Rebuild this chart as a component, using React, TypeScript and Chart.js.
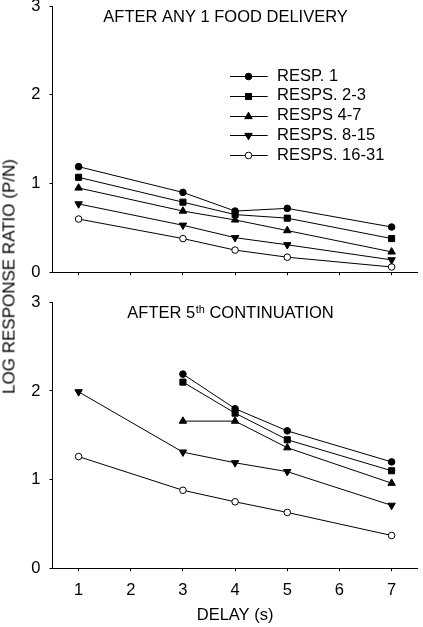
import React, { useEffect, useRef } from "react";
import { Chart, registerables } from "chart.js";
import { drawPoint } from "chart.js/helpers";

Chart.register(...registerables);

const FONT_FAMILY = '"Liberation Sans", Arial, Helvetica, sans-serif';

// ---- data ----
const delays = [1, 3, 4, 5, 7];
const xTickValues = [1, 2, 3, 4, 5, 6, 7];
const yTickValues = [0, 1, 2, 3];
const seriesNames = ["RESP. 1", "RESPS. 2-3", "RESPS 4-7", "RESPS. 8-15", "RESPS. 16-31"];

const topResp1 = [1.19, 0.9, 0.69, 0.72, 0.51];
const topResps2to3 = [1.07, 0.79, 0.65, 0.61, 0.38];
const topResps4to7 = [0.95, 0.69, 0.59, 0.47, 0.23];
const topResps8to15 = [0.77, 0.53, 0.39, 0.31, 0.14];
const topResps16to31 = [0.6, 0.38, 0.25, 0.17, 0.06];

const bottomResp1 = [null, 2.19, 1.8, 1.55, 1.2];
const bottomResps2to3 = [null, 2.1, 1.75, 1.45, 1.1];
const bottomResps4to7 = [null, 1.66, 1.66, 1.36, 0.96];
const bottomResps8to15 = [1.99, 1.31, 1.19, 1.09, 0.71];
const bottomResps16to31 = [1.26, 0.88, 0.75, 0.63, 0.37];

const topTitle = "AFTER ANY 1 FOOD DELIVERY";
const bottomTitleMain = "AFTER 5";
const bottomTitleSup = "th";
const bottomTitleRest = " CONTINUATION";
const yAxisTitle = "LOG RESPONSE RATIO (P/N)";
const xAxisTitle = "DELAY (s)";

// ---- styles ----
const markerStyles = [
  { style: "circle", radius: 3.3, fill: "#000000", rotation: 0 },
  { style: "rect", radius: 4.3, fill: "#000000", rotation: 0 },
  { style: "triangle", radius: 4.3, fill: "#000000", rotation: 0 },
  { style: "triangle", radius: 4.3, fill: "#000000", rotation: 180 },
  { style: "circle", radius: 3.3, fill: "#ffffff", rotation: 0 },
];

const FONT_SIZE = 16.5;

function buildDatasets(series: (number | null)[][]) {
  return series.map((vals, i) => ({
    label: seriesNames[i],
    data: delays.map((d, j) => ({ x: d, y: vals[j] })),
    borderColor: "#000000",
    borderWidth: 1,
    pointStyle: markerStyles[i].style,
    pointRadius: markerStyles[i].radius,
    pointRotation: markerStyles[i].rotation,
    pointBackgroundColor: markerStyles[i].fill,
    pointBorderColor: "#000000",
    pointBorderWidth: 1,
    fill: false,
    tension: 0,
    spanGaps: false,
  }));
}

function buildScales(showXLabels: boolean, xHeight: number) {
  const font = { family: FONT_FAMILY, size: FONT_SIZE };
  return {
    x: {
      type: "linear",
      min: 0.5,
      max: 7.5,
      afterBuildTicks: (s: any) => {
        s.ticks = xTickValues.map((v) => ({ value: v }));
      },
      ticks: {
        padding: 9,
        font,
        color: "#000000",
        maxRotation: 0,
        autoSkip: false,
        callback: (v: any) => (showXLabels ? String(v) : ""),
      },
      grid: { drawOnChartArea: false, drawTicks: true, tickLength: 3, color: "#000000", lineWidth: 1 },
      border: { display: true, color: "#000000", width: 1 },
      title: {
        display: showXLabels,
        text: xAxisTitle,
        font,
        color: "#000000",
        padding: { top: 0, bottom: 1.3 },
      },
      afterFit: (s: any) => {
        s.height = xHeight;
        s.paddingLeft = 0;
        s.paddingRight = 0;
      },
    },
    y: {
      type: "linear",
      min: 0,
      max: 3,
      afterBuildTicks: (s: any) => {
        s.ticks = yTickValues.map((v) => ({ value: v }));
      },
      ticks: { padding: 9, font, color: "#000000", callback: (v: any) => String(v) },
      grid: { drawOnChartArea: false, drawTicks: true, tickLength: 3, color: "#000000", lineWidth: 1 },
      border: { display: true, color: "#000000", width: 1 },
      afterFit: (s: any) => {
        s.width = 52.5;
        s.paddingTop = 0;
        s.paddingBottom = 0;
      },
    },
  };
}

const topDecor = {
  id: "topDecor",
  afterDraw(chart: any) {
    const ctx = chart.ctx;
    ctx.save();
    ctx.fillStyle = "#000000";
    ctx.font = `${FONT_SIZE}px ${FONT_FAMILY}`;
    ctx.textAlign = "left";
    ctx.textBaseline = "alphabetic";
    ctx.fillText(topTitle, 103.3, 21.7);
    chart.data.datasets.forEach((ds: any, i: number) => {
      const y = 76 + i * 19.8;
      const yl = Math.round(y) + 0.5;
      ctx.strokeStyle = "#000000";
      ctx.lineWidth = 1;
      ctx.beginPath();
      ctx.moveTo(230, yl);
      ctx.lineTo(267.7, yl);
      ctx.stroke();
      ctx.fillStyle = ds.pointBackgroundColor;
      ctx.strokeStyle = "#000000";
      drawPoint(
        ctx,
        { pointStyle: ds.pointStyle, rotation: ds.pointRotation, radius: ds.pointRadius, borderWidth: 1 },
        248.5,
        yl
      );
      ctx.fillStyle = "#000000";
      ctx.textBaseline = "middle";
      ctx.fillText(ds.label, 277, y);
    });
    ctx.restore();
  },
};

const bottomDecor = {
  id: "bottomDecor",
  afterDraw(chart: any) {
    const ctx = chart.ctx;
    ctx.save();
    ctx.fillStyle = "#000000";
    ctx.textAlign = "left";
    ctx.textBaseline = "alphabetic";
    const baseY = 27.7;
    let x = 127.3;
    ctx.font = `${FONT_SIZE}px ${FONT_FAMILY}`;
    ctx.fillText(bottomTitleMain, x, baseY);
    x += ctx.measureText(bottomTitleMain).width + 0.5;
    ctx.font = `11px ${FONT_FAMILY}`;
    ctx.fillText(bottomTitleSup, x, baseY - 4.5);
    x += ctx.measureText(bottomTitleSup).width;
    ctx.font = `${FONT_SIZE}px ${FONT_FAMILY}`;
    ctx.fillText(bottomTitleRest, x, baseY);
    ctx.restore();
  },
};

function makeConfig(series: (number | null)[][], showXLabels: boolean, padTop: number, xHeight: number, plugin: any) {
  return {
    type: "line",
    data: { datasets: buildDatasets(series) },
    options: {
      animation: false,
      responsive: false,
      maintainAspectRatio: false,
      devicePixelRatio: 1,
      layout: { padding: { top: padTop, left: 0, right: 0, bottom: 0 } },
      plugins: { legend: { display: false }, title: { display: false }, tooltip: { enabled: false } },
      scales: buildScales(showXLabels, xHeight),
    },
    plugins: [plugin],
  } as any;
}

export default function App() {
  const topRef = useRef<HTMLCanvasElement | null>(null);
  const bottomRef = useRef<HTMLCanvasElement | null>(null);

  useEffect(() => {
    const topChart = new Chart(
      topRef.current as HTMLCanvasElement,
      makeConfig([topResp1, topResps2to3, topResps4to7, topResps8to15, topResps16to31], false, 6, 17.7, topDecor)
    );
    const bottomChart = new Chart(
      bottomRef.current as HTMLCanvasElement,
      makeConfig(
        [bottomResp1, bottomResps2to3, bottomResps4to7, bottomResps8to15, bottomResps16to31],
        true,
        12.3,
        58.7,
        bottomDecor
      )
    );
    return () => {
      topChart.destroy();
      bottomChart.destroy();
    };
  }, []);

  return (
    <div style={{ position: "absolute", left: 0, top: 0, width: 423, height: 627, background: "#ffffff" }}>
      <canvas
        ref={topRef}
        width={423}
        height={290}
        style={{ position: "absolute", left: 0, top: 0, width: 423, height: 290, display: "block" }}
      />
      <canvas
        ref={bottomRef}
        width={423}
        height={337}
        style={{ position: "absolute", left: 0, top: 290, width: 423, height: 337, display: "block" }}
      />
      <div
        style={{
          position: "absolute",
          left: 8.5 - 150,
          top: 276.5 - 8.5,
          width: 300,
          height: 17,
          lineHeight: "17px",
          fontSize: 17,
          fontFamily: FONT_FAMILY,
          color: "#000000",
          textAlign: "center",
          whiteSpace: "nowrap",
          transform: "rotate(-90deg)",
          transformOrigin: "50% 50%",
        }}
      >
        {yAxisTitle}
      </div>
    </div>
  );
}
